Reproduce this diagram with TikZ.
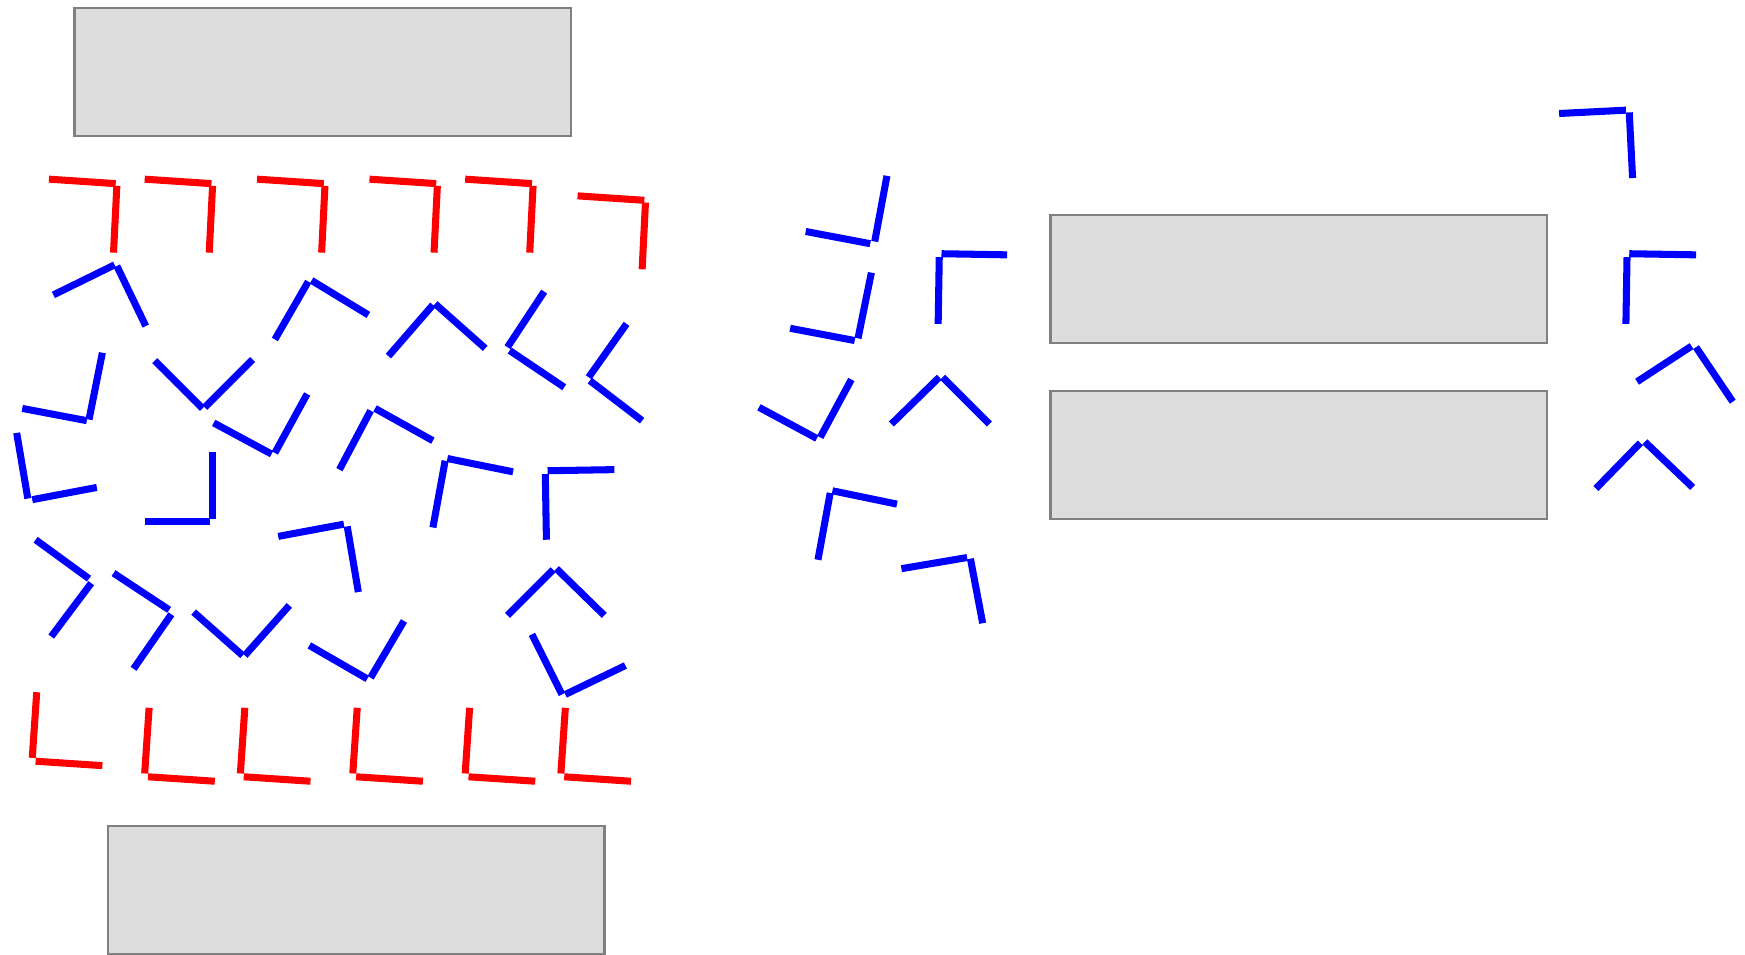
\documentclass[tikz,border=0pt]{standalone}
\usepackage{xcolor}
\usepackage{tikz}
\usetikzlibrary{
  arrows.meta,
  positioning,
  calc
}
\definecolor{panelfill}{HTML}{DDDDDD}
\definecolor{paneledge}{HTML}{808080}

\begin{document}
\begin{tikzpicture}[x=0.01cm, y=-0.01cm,
    panel/.style={draw=paneledge, fill=panelfill, line width=0.6pt, minimum width=4.46cm, minimum height=1.15cm, inner sep=0pt},
    bar/.style={line width=1.8pt, line cap=butt}]
    \useasboundingbox (0,0) rectangle (1568,858);

    % Paineis
    \node[panel] (ptop) at (290,64.5) {};
    \node[panel] (pright1) at (1167,250.5) {};
    \node[panel] (pright2) at (1167,409) {};
    \node[panel] (pbottom) at (320,799.5) {};

    % Cantos vermelhos (linha de cima)
    \foreach \dx/\dy in {0/0, 86/0, 187/0, 288/0, 374/0, 475/15} {
        \draw[bar, red] ({44+\dx},{161+\dy}) -- ({104+\dx},{165+\dy});
        \draw[bar, red] ({105+\dx},{167+\dy}) -- ({102+\dx},{227+\dy});
    }

    % Cantos vermelhos (linha de baixo)
    \foreach \dx/\dy in {0/0, 101/14, 187/14, 288/14, 389/14, 475/14} {
        \draw[bar, red] ({33+\dx},{622+\dy}) -- ({29+\dx},{681+\dy});
        \draw[bar, red] ({32+\dx},{684+\dy}) -- ({92+\dx},{688+\dy});
    }

    % Cantos azuis
    \foreach \ax/\ay/\bx/\by/\cx/\cy/\ex/\ey in {
        48/265/103/238/105/239/131/293,   247/305/277/253/280/252/331/283,
        349/320/389/274/391/273/436/313,  489/262/456/312/458/315/507/348,
        563/291/529/339/530/342/577/378,  92/317/80/377/78/378/20/367,
        139/324/182/367/184/366/227/323,  192/380/244/408/247/407/276/354,
        305/422/333/369/337/367/389/396,  15/389/25/448/29/449/87/438,
        191/406/191/466/189/469/130/469,  389/474/400/414/402/412/461/424,
        491/485/490/426/492/423/552/422,  32/485/80/520/82/524/46/572,
        102/515/152/548/154/552/120/601,  250/482/309/471/312/473/322/532,
        174/550/218/589/220/589/260/544,  278/580/330/610/333/609/363/558,
        456/553/497/512/500/511/543/553,  478/570/505/624/508/624/562/598,
        797/158/786/217/782/219/724/208,  783/245/771/304/768/306/710/295,
        843/291/844/231/846/228/905/229,  682/366/734/394/737/393/765/341,
        801/381/844/339/847/339/889/381,  735/503/746/443/748/441/806/453,
        810/511/869/501/872/502/883/560,  1401/102/1461/99/1464/101/1467/160,
        1461/291/1462/231/1464/228/1524/229, 1471/343/1520/311/1524/312/1557/361,
        1434/439/1474/398/1478/397/1521/438} {
        \draw[bar, blue] (\ax,\ay) -- (\bx,\by);
        \draw[bar, blue] (\cx,\cy) -- (\ex,\ey);
    }
\end{tikzpicture}
\end{document}
